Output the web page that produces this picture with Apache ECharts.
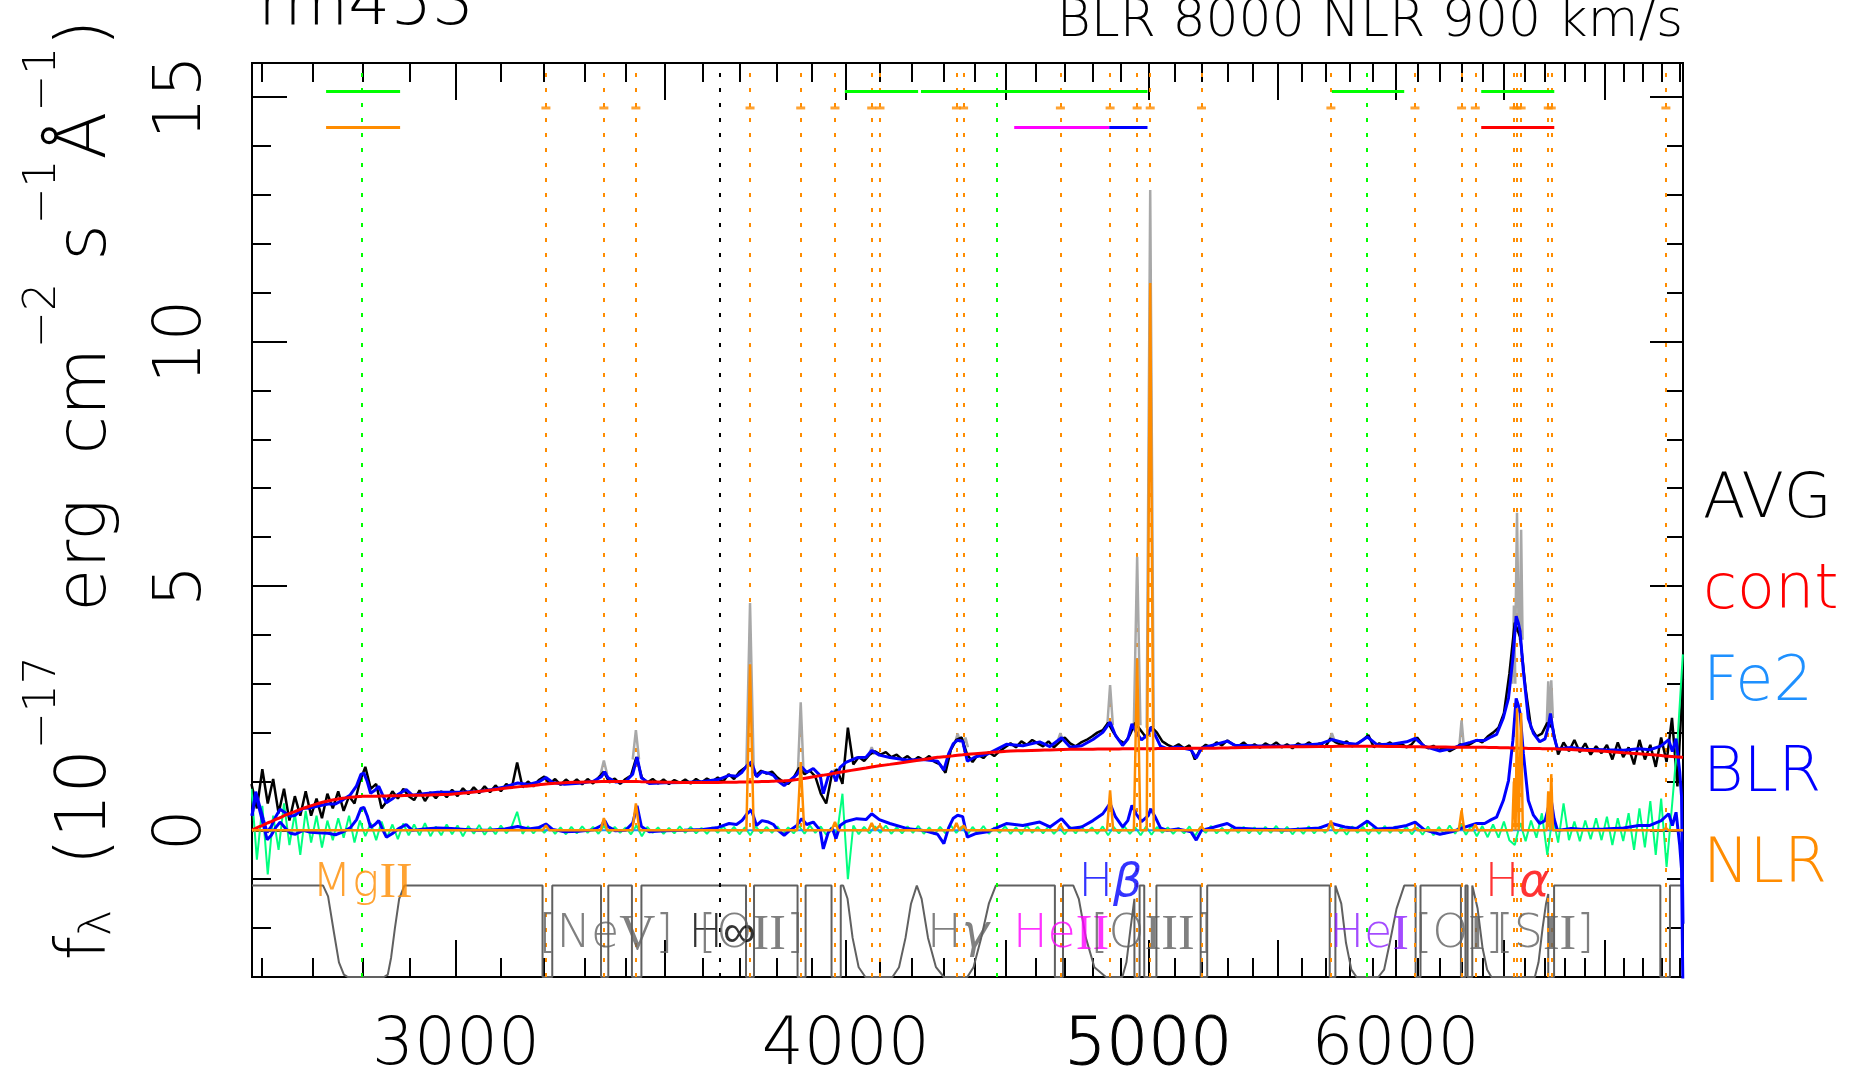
<!DOCTYPE html>
<html><head><meta charset="utf-8">
<script src="https://cdn.jsdelivr.net/npm/echarts@6/dist/echarts.min.js"></script>
<style>html,body{margin:0;padding:0;background:#fff}#c{width:1863px;height:1075px}</style>
</head><body><div id="c"></div><script>
// ---------------- data ----------------
const WAVE_MIN = 2581, WAVE_MAX = 7418, FLUX_MIN = -3, FLUX_MAX = 15.7;
const xLabelTicks = [3000, 4000, 5000, 6000];
const xMajorTicks = [3000, 3500, 4000, 4500, 5000, 5500, 6000, 6500, 7000];
const yLabelTicks = [0, 5, 10, 15];
const yMinorTicks = [-3,-2,-1,0,1,2,3,4,5,6,7,8,9,10,11,12,13,14,15];

// smooth model grid (Angstrom) with continuum and BLR component
const modelWave = [
2581,2588,2596,2603,2610,2618,2626,2635,2645,2655,
2665,2680,2695,2710,2730,2745,2760,2775,2788,2797,
2803,2810,2817,2826,2834,2842,2850,2862,2875,2892,
2905,2930,2960,2990,3020,3050,3080,3110,3140,3165,
3190,3206,3222,3250,3285,3320,3340,3348,3356,3375,
3400,3418,3429,3440,3460,3500,3550,3600,3640,3670,
3690,3705,3720,3731,3745,3760,3778,3792,3805,3822,
3838,3858,3872,3886,3905,3925,3934,3948,3960,3971,
3983,4000,4032,4060,4077,4100,4132,4183,4235,4280,
4300,4315,4330,4344,4360,4375,4400,4440,4503,4558,
4615,4650,4690,4720,4760,4800,4835,4861,4880,4906,
4925,4940,4955,4975,5000,5009,5025,5045,5070,5110,
5160,5180,5200,5250,5300,5330,5403,5536,5673,5725,
5780,5830,5877,5920,5990,6050,6088,6130,6200,6254,
6304,6340,6370,6408,6440,6465,6497,6522,6543,6559,
6570,6578,6594,6618,6643,6674,6700,6716,6727,6745,
6762,6830,6895,7000,7100,7180,7239,7300,7340,7360,
7380,7400,7410,7418];
const contFlux = [
0.00,0.04,0.08,0.11,0.15,0.18,0.22,0.26,0.31,0.35,
0.39,0.45,0.50,0.55,0.60,0.63,0.655,0.675,0.69,0.695,
0.70,0.70,0.70,0.70,0.70,0.705,0.705,0.71,0.71,0.715,
0.72,0.72,0.73,0.74,0.765,0.795,0.825,0.86,0.89,0.91,
0.935,0.95,0.96,0.975,0.985,0.995,1.0,1.0,1.0,1.0,
1.0,1.0,1.0,0.995,0.99,0.985,0.98,0.98,0.98,0.985,
0.985,0.99,0.99,0.99,0.995,1.0,1.0,1.005,1.01,1.015,
1.02,1.04,1.055,1.07,1.095,1.12,1.13,1.145,1.16,1.175,
1.19,1.21,1.245,1.275,1.295,1.32,1.35,1.40,1.45,1.495,
1.505,1.515,1.525,1.535,1.545,1.555,1.57,1.59,1.62,1.63,
1.64,1.645,1.655,1.66,1.66,1.66,1.665,1.665,1.665,1.668,
1.668,1.67,1.67,1.67,1.67,1.67,1.672,1.673,1.674,1.675,
1.678,1.679,1.68,1.682,1.686,1.69,1.70,1.71,1.715,1.718,
1.72,1.72,1.72,1.72,1.715,1.712,1.71,1.708,1.705,1.703,
1.702,1.70,1.70,1.70,1.695,1.693,1.69,1.688,1.685,1.683,
1.682,1.681,1.68,1.677,1.675,1.673,1.671,1.67,1.67,1.668,
1.665,1.655,1.64,1.617,1.59,1.57,1.55,1.53,1.515,1.51,
1.505,1.50,1.495,1.49];
const blrFlux = [
0.30,0.75,0.40,0.10,-0.19,-0.10,0.05,0.17,0.05,-0.06,
-0.08,0.00,-0.04,-0.05,-0.06,-0.09,-0.03,0.05,0.22,0.45,
0.47,0.30,0.06,0.12,0.20,0.02,-0.14,-0.07,0.03,0.12,
0.00,0.03,0.05,0.04,0.02,0.00,0.01,0.03,0.08,0.03,
0.06,0.13,0.02,-0.03,-0.02,0.01,0.10,0.20,0.08,-0.01,
0.00,0.15,0.50,0.08,-0.03,-0.01,0.00,0.02,0.06,0.14,
0.12,0.20,0.35,0.41,0.10,0.20,0.17,0.12,0.00,-0.10,
0.00,0.10,0.24,0.12,0.17,0.00,-0.38,-0.05,0.05,-0.17,
0.10,0.18,0.24,0.22,0.34,0.22,0.14,0.04,0.00,-0.08,
-0.27,0.05,0.25,0.31,0.28,-0.14,-0.07,-0.03,0.14,0.10,
0.17,0.07,0.24,0.04,0.07,0.20,0.34,0.55,0.28,0.07,
0.20,0.51,0.34,0.18,0.30,0.44,0.28,0.05,0.00,0.03,
-0.03,-0.20,0.00,0.07,0.14,0.05,0.03,0.01,0.05,0.14,
0.07,0.04,0.19,0.03,0.05,0.10,0.17,0.01,-0.08,-0.03,
0.05,0.10,0.14,0.14,0.22,0.27,0.61,1.02,1.84,2.70,
2.55,2.39,1.57,0.61,0.31,0.14,0.20,0.45,0.72,0.24,
0.00,0.04,0.02,0.03,0.05,0.10,0.10,0.20,0.34,0.10,
0.37,-0.30,-0.80,-3.40];
const fe2Wave = [2581, 7418];
const fe2Flux = [0, 0];

// observed spectrum (narrow lines removed) and residual, on a log-lambda pixel grid
const pixStart = 2580, pixLogStep = 0.004;
const avgFlux = [
0.95,0.45,1.25,0.55,1.05,0.35,0.85,0.2,0.7,0.3,
0.8,0.3,0.65,0.25,0.75,0.45,0.8,0.4,0.7,0.55,
1.0,1.3,0.85,0.95,0.45,0.6,0.8,0.65,0.85,0.7,
0.62,0.82,0.6,0.78,0.66,0.8,0.68,0.83,0.7,0.86,
0.74,0.88,0.76,0.9,0.78,0.92,0.8,0.95,0.86,1.39,
0.88,1.0,0.9,1.03,1.1,0.95,1.05,0.93,1.04,0.95,
1.04,0.94,1.05,0.96,1.08,1.2,0.98,1.06,0.95,1.05,
1.12,1.5,1.08,0.98,1.05,0.96,1.04,0.95,1.03,0.97,
1.04,0.96,1.05,0.98,1.06,1.0,1.08,1.0,1.15,1.05,
1.2,1.28,1.38,1.12,1.22,1.16,1.2,1.08,1.0,0.95,
1.08,1.28,1.15,1.22,1.1,0.75,0.55,1.12,1.25,0.95,
2.1,1.35,1.5,1.42,1.55,1.62,1.55,1.6,1.5,1.55,
1.45,1.52,1.42,1.5,1.44,1.52,1.4,1.35,1.18,1.65,
1.85,1.9,1.55,1.4,1.55,1.48,1.6,1.52,1.62,1.7,
1.78,1.7,1.82,1.75,1.85,1.78,1.72,1.82,1.7,1.8,
1.9,1.78,1.72,1.8,1.85,1.92,2.0,2.05,2.2,2.0,
1.85,1.78,1.95,2.2,2.05,1.9,2.12,2.0,1.82,1.75,
1.7,1.76,1.68,1.74,1.45,1.66,1.75,1.7,1.8,1.74,
1.84,1.76,1.72,1.8,1.7,1.76,1.69,1.78,1.72,1.8,
1.7,1.76,1.68,1.78,1.72,1.8,1.73,1.78,1.7,1.88,
1.8,1.75,1.82,1.72,1.78,1.85,1.95,1.7,1.78,1.74,
1.8,1.72,1.78,1.7,1.76,1.9,1.75,1.68,1.73,1.64,
1.7,1.62,1.68,1.76,1.72,1.78,1.85,1.8,1.92,2.0,
2.1,2.4,3.2,4.25,3.95,2.9,2.1,1.92,1.98,2.2,
2.1,1.55,1.8,1.62,1.85,1.6,1.78,1.55,1.72,1.58,
1.75,1.45,1.8,1.5,1.7,1.35,1.85,1.45,1.75,1.3,
1.9,1.4,2.3,0.9,3.1];
const residFlux = [
0.85,-0.6,0.5,-0.9,0.3,-0.4,0.55,-0.3,0.35,-0.5,
0.4,-0.25,0.3,-0.35,0.2,-0.2,0.25,-0.15,0.3,-0.25,
0.2,-0.12,0.15,-0.2,0.18,-0.15,0.12,-0.18,0.14,-0.1,
0.12,-0.1,0.15,-0.12,0.08,-0.1,0.12,-0.08,0.1,-0.12,
0.09,-0.07,0.11,-0.09,0.07,-0.08,0.1,-0.06,0.08,0.38,
-0.07,0.08,-0.06,0.07,-0.05,0.08,-0.07,0.06,-0.08,0.07,
-0.06,0.08,-0.05,0.07,-0.07,0.09,-0.06,0.07,-0.05,0.06,
-0.08,0.1,-0.12,0.07,-0.05,0.06,-0.07,0.05,-0.06,0.08,
-0.05,0.07,-0.06,0.05,-0.07,0.06,-0.05,0.08,-0.06,0.07,
-0.08,0.06,-0.1,0.08,-0.06,0.07,-0.05,0.08,-0.07,0.06,
-0.06,0.09,-0.07,0.1,-0.05,0.08,-0.09,0.06,-0.07,0.75,
-1.0,0.1,-0.08,0.07,-0.06,0.08,-0.05,0.1,-0.07,0.06,
-0.06,0.08,-0.05,0.09,-0.07,0.06,-0.08,0.07,-0.06,0.1,
-0.05,0.08,-0.1,0.07,-0.06,0.09,-0.07,0.06,-0.05,0.08,
-0.07,0.06,-0.08,0.1,-0.05,0.07,-0.06,0.08,-0.07,0.05,
-0.08,0.07,-0.06,0.09,-0.05,0.06,-0.07,0.08,-0.1,0.07,
-0.06,0.08,-0.07,0.06,-0.1,0.08,-0.09,0.07,-0.05,0.06,
-0.07,0.05,-0.06,0.08,-0.12,0.07,-0.05,0.09,-0.06,0.05,
-0.07,0.08,-0.05,0.07,-0.06,0.06,-0.08,0.07,-0.05,0.09,
-0.06,0.07,-0.08,0.05,-0.07,0.08,-0.06,0.07,-0.05,0.1,
-0.07,0.06,-0.09,0.08,-0.05,0.07,-0.08,0.06,-0.07,0.09,
-0.05,0.08,-0.06,0.07,-0.08,0.06,-0.09,0.08,-0.1,0.07,
-0.08,0.1,-0.07,0.12,-0.09,0.1,-0.12,0.09,-0.14,0.12,
-0.15,0.18,-0.2,-0.3,0.15,-0.22,0.2,-0.15,0.35,-0.5,
0.3,-0.25,0.55,-0.2,0.18,-0.22,0.2,-0.18,0.25,-0.2,
0.28,-0.3,0.25,-0.22,0.35,-0.4,0.45,-0.35,0.6,-0.5,
0.65,-0.75,0.5,1.8,3.6];

// narrow-line (NLR) component: centre, peak, half width (A)
const nlrCenter = [3206,3346,3426,3727,3869,3968,4077,4102,4340,4363,4686,4861,4959,5007,5200,5721,6087,6300,6364,6548,6563,6583,6716,6731,7325];
const nlrPeak   = [0.10,0.25,0.55,3.4,1.4,0.17,0.15,0.10,0.15,0.10,0.12,0.82,3.5,11.2,0.08,0.20,0.05,0.41,0.12,1.0,2.5,2.4,0.8,1.15,0.05];
const nlrHalf   = [8,8,9,10,10,10,10,10,10,10,11,11,12,13,12,13,13,13,13,8,8,8,8,8,14];
// observed data (with narrow lines) at the narrow lines: centre, peak, local level, half width
const dataCenter = [3346,3426,3727,3869,3968,4077,4344,4369,4686,4861,4959,5007,5725,6300,6548,6563,6583,6716,6731];
const dataPeak   = [1.43,2.05,4.65,2.62,1.25,1.70,1.98,1.90,1.99,2.97,5.6,13.1,1.99,2.25,4.6,6.5,6.15,3.05,3.07];
const dataLevel  = [1.15,1.45,1.3,1.2,1.1,1.55,1.8,1.7,1.85,2.15,2.15,2.1,1.85,1.75,3.0,4.3,3.9,2.1,2.3];
const dataHalf   = [8,8,10,8,8,8,8,8,8,10,12,13,10,10,7,7,7,8,8];

// fitting-window weight curve shown at the bottom
const maskWave = [2581,2720,2730,2742,2752,2762,2770,2845,2853,2860,2868,2877,2888,
3198,3198,3221,3221,3339,3339,3357,3357,3416,3416,3440,3440,3716,3716,3738,3738,3860,3860,3883,3883,3958,3958,3985,3985,
3992,4005,4020,4038,4058,4140,4160,4180,4197,4215,4230,4250,4275,4300,4375,4395,4420,4445,4468,
4667,4667,4695,4695,4731,4750,4775,4805,4846,4905,4920,4935,4949,4949,4968,4968,4985,4985,5030,5030,
5197,5197,5222,5222,5716,5716,5740,5740,5765,5785,5808,5830,5925,5950,5975,6005,6039,
6090,6090,6112,6112,6297,6297,6318,6318,6328,6328,6350,6350,6358,6375,6398,6420,6440,6650,6668,6688,6705,6716,6716,6745,6745,
7295,7295,7347,7347,7418];
const maskFlux = [-1.13,-1.13,-1.35,-2.1,-2.7,-2.95,-3,-3,-2.95,-2.6,-2.0,-1.4,-1.13,
-1.13,-3,-3,-1.13,-1.13,-3,-3,-1.13,-1.13,-3,-3,-1.13,-1.13,-3,-3,-1.13,-1.13,-3,-3,-1.13,-1.13,-3,-3,-1.13,
-1.13,-1.4,-2.2,-2.8,-3,-3,-2.8,-2.2,-1.5,-1.13,-1.4,-2.2,-2.8,-3,-3,-2.8,-2.2,-1.5,-1.13,
-1.13,-3,-3,-1.13,-1.13,-1.4,-2.2,-2.8,-3,-3,-2.7,-2.0,-1.4,-3,-3,-1.13,-1.13,-3,-3,-1.13,
-1.13,-3,-3,-1.13,-1.13,-3,-3,-1.13,-1.5,-2.3,-2.85,-3,-3,-2.85,-2.3,-1.6,-1.13,
-1.13,-3,-3,-1.13,-1.13,-3,-3,-1.13,-1.13,-3,-3,-1.13,-1.13,-1.6,-2.4,-2.85,-3,-3,-2.7,-2.0,-1.5,-1.3,-3,-3,-1.13,
-1.13,-3,-3,-1.13,-1.13];

// line positions
const narrowLineWave = [3206,3346,3426,3727,3869,3968,4077,4102,4340,4363,4686,4861,4959,5007,5200,5721,6087,6300,6364,6548,6563,6583,6716,6731,7325];
const broadLineWave = [2798,4340,4471,4686,4861,5876,6563];
const limitLineWave = [3646];
// fitting ranges at the top
const rangeStart = [2726,3997,4228,5725,6392,2726,4529,4858,6392];
const rangeEnd   = [2879,4219,4997,6039,6746,2879,4858,4997,6746];
const rangeLevel = [15.12,15.12,15.12,15.12,15.12,14.39,14.39,14.39,14.39];
const rangeColor = ['#00ff00','#00ff00','#00ff00','#00ff00','#00ff00','#ff8c00','#ff00ff','#0000ff','#ff0000'];
const dashLevel = 14.78;
// line names
const lineName  = ['MgII','Hβ','Hα','[NeV]','H∞','[OII]','Hγ','HeII','[OIII]','HeI','[OI]','[SII]'];
const lineWave  = [2800,4862,6564,3351,3651,3730,4345,4688,5012,5885,6287,6700];
const lineLevel = [-1.1,-1.1,-1.1,-2.15,-2.15,-2.15,-2.15,-2.15,-2.15,-2.15,-2.15,-2.15];
const lineColor = ['#ff8c00','#0000ff','#ff0000','#606060','#000000','#606060','#606060','#ff00ff','#606060','#8c1eff','#606060','#606060'];
const legendNames = ['AVG','cont','Fe2','BLR','NLR'];
const legendColors = ['#000000','#ff0000','#1e90ff','#0000ff','#ff8c00'];

// ---------------- build ----------------
const lw = Math.log;
const FONT = "'DejaVu Sans', sans-serif";
const FW = 200;
const xy = (w, f) => [lw(w), f];
const modelLower = modelWave.map((w, i) => xy(w, blrFlux[i]));
const modelUpper = modelWave.map((w, i) => xy(w, +(contFlux[i] + blrFlux[i]).toFixed(3)));
const contData = modelWave.map((w, i) => xy(w, contFlux[i]));
const avgData = avgFlux.map((f, i) => [lw(pixStart) + pixLogStep * i, f]);
const residData = residFlux.map((f, i) => [lw(pixStart) + pixLogStep * i, f]);
const nlrData = [xy(WAVE_MIN, 0)];
nlrCenter.forEach((c, i) => { nlrData.push(xy(c - nlrHalf[i], 0), xy(c, nlrPeak[i]), xy(c + nlrHalf[i], 0)); });
nlrData.push(xy(WAVE_MAX, 0));
const greyData = [];
dataCenter.forEach((c, i) => { greyData.push(xy(c - dataHalf[i], dataLevel[i]), xy(c, dataPeak[i]), xy(c + dataHalf[i], dataLevel[i]), [lw(c + dataHalf[i]), null]); });
const maskData = maskWave.map((w, i) => xy(w, maskFlux[i]));

const vlines = [];
limitLineWave.forEach(w => vlines.push({ coords: [xy(w, FLUX_MIN), xy(w, 15.55)], lineStyle: { color: '#000000' } }));
broadLineWave.forEach(w => vlines.push({ coords: [xy(w, FLUX_MIN), xy(w, 15.55)], lineStyle: { color: '#00ff00' } }));
narrowLineWave.forEach(w => vlines.push({ coords: [xy(w, FLUX_MIN), xy(w, 15.55)], lineStyle: { color: '#ff8c00' } }));
const rangeLines = rangeStart.map((s, i) => ({ coords: [xy(s, rangeLevel[i]), xy(rangeEnd[i], rangeLevel[i])], lineStyle: { color: rangeColor[i] } }));

function richName(s) {
  const m = s.match(/^(\[?)([A-Z][a-z]?)([IV]+)(\]?)$/);
  if (m) return m[1] + m[2] + '{r|' + m[3] + '}' + m[4];
  const g = s.match(/^H([αβγ])$/);
  if (g) return 'H{g|' + g[1] + '}';
  return s;
}
const labelData = lineName.map((n, i) => ({ value: xy(lineWave[i], lineLevel[i]), name: n, label: { color: lineColor[i] } }));

const xMinorTicks = []; for (let w = 2600; w <= 7400; w += 100) xMinorTicks.push(w);

function xAxis(pos, ticks, len, withLabels) {
  return {
    type: 'value', position: pos, min: lw(WAVE_MIN), max: lw(WAVE_MAX), gridIndex: 0,
    axisLine: { show: true, onZero: false, lineStyle: { color: '#000', width: 2 } },
    splitLine: { show: false },
    axisTick: { show: true, inside: true, length: len, lineStyle: { color: '#000', width: 2 }, customValues: ticks.map(lw) },
    axisLabel: withLabels ? {
      show: true, customValues: xLabelTicks.map(lw), margin: 37, fontSize: 66, color: '#000', fontFamily: FONT, fontWeight: FW,
      formatter: v => { const w = Math.round(Math.exp(v)); return w === 5000 ? '{b|' + w + '}' : String(w); },
      rich: { b: { fontSize: 66, fontFamily: FONT, fontWeight: FW, color: '#000', textBorderColor: '#000', textBorderWidth: 1 } }
    } : { show: false }
  };
}
function yAxis(pos, ticks, len, withLabels) {
  return {
    type: 'value', position: pos, min: FLUX_MIN, max: FLUX_MAX, gridIndex: 0,
    axisLine: { show: true, onZero: false, lineStyle: { color: '#000', width: 2 } },
    splitLine: { show: false },
    axisTick: { show: true, inside: true, length: len, lineStyle: { color: '#000', width: 2 }, customValues: ticks },
    axisLabel: withLabels ? { show: true, customValues: yLabelTicks, rotate: 90, margin: 36, fontSize: 66, color: '#000', fontFamily: FONT, fontWeight: FW } : { show: false }
  };
}

const option = {
  backgroundColor: '#ffffff',
  animation: false,
  textStyle: { fontFamily: FONT },
  grid: { left: 252, right: 180, top: 63, bottom: 98, containLabel: false, outerBoundsMode: 'none' },
  xAxis: [xAxis('bottom', xMajorTicks, 37, true), xAxis('bottom', xMinorTicks, 19, false), xAxis('top', xMajorTicks, 37, false), xAxis('top', xMinorTicks, 19, false)],
  yAxis: [yAxis('left', yLabelTicks, 35, true), yAxis('left', yMinorTicks, 19, false), yAxis('right', yLabelTicks, 33, false), yAxis('right', yMinorTicks, 16, false)],
  series: [
    { name: 'window', type: 'line', data: maskData, symbol: 'none', z: 1, lineStyle: { color: '#606060', width: 2 } },
    { name: 'lines', type: 'lines', coordinateSystem: 'cartesian2d', data: vlines, z: 2, silent: true, lineStyle: { width: 2, type: [4, 11], opacity: 1 } },
    { name: 'ranges', type: 'lines', coordinateSystem: 'cartesian2d', data: rangeLines, z: 3, silent: true, lineStyle: { width: 3, type: 'solid', opacity: 1 } },
    { name: 'dashes', type: 'scatter', data: narrowLineWave.map(w => xy(w, dashLevel)), symbol: 'rect', symbolSize: [9, 3], z: 3, itemStyle: { color: '#ff8c00' } },
    { name: 'data', type: 'line', data: greyData, symbol: 'none', connectNulls: false, z: 4, lineStyle: { color: '#a8a8a8', width: 2.5 } },
    { name: 'AVG', type: 'line', data: avgData, symbol: 'none', z: 5, lineStyle: { color: '#000000', width: 2.5 } },
    { name: 'resid', type: 'line', data: residData, symbol: 'none', z: 5, lineStyle: { color: '#00ff7f', width: 2 } },
    { name: 'Fe2', type: 'line', data: fe2Wave.map((w, i) => xy(w, fe2Flux[i])), symbol: 'none', z: 6, lineStyle: { color: '#1e90ff', width: 2 } },
    { name: 'BLR', type: 'line', data: modelLower, symbol: 'none', z: 7, lineStyle: { color: '#0000ff', width: 3 } },
    { name: 'model', type: 'line', data: modelUpper, symbol: 'none', z: 7, lineStyle: { color: '#0000ff', width: 3 } },
    { name: 'cont', type: 'line', data: contData, symbol: 'none', smooth: 0.3, z: 8, lineStyle: { color: '#ff0000', width: 3 } },
    { name: 'NLR', type: 'line', data: nlrData, symbol: 'none', z: 9, lineStyle: { color: '#ff8c00', width: 2.5 } },
    { name: 'names', type: 'scatter', data: labelData, symbolSize: 1, z: 10, itemStyle: { color: 'rgba(0,0,0,0)' },
      label: { show: true, position: 'inside', fontSize: 46, fontFamily: FONT, fontWeight: FW,
        formatter: p => richName(p.name),
        rich: { r: { fontFamily: "'Liberation Serif', serif", fontSize: 50 }, g: { fontStyle: 'italic', fontSize: 46, fontFamily: FONT } } } }
  ],
  graphic: [
    { type: 'text', x: 258, y: 7, style: { text: 'rm453', fill: '#000', font: FW + ' 66px ' + FONT, align: 'left', verticalAlign: 'middle' } },
    { type: 'text', x: 1683, y: 22, style: { text: 'BLR 8000 NLR 900 km/s', fill: '#000', font: FW + ' 52px ' + FONT, align: 'right', verticalAlign: 'middle' } },
    { type: 'text', x: 22, y: 490, rotation: Math.PI / 2,
      style: { text: '{n|f}{sub|λ}{n|  (10}{sup|−17}{n|  erg  cm}{sup|−2}{n| s}{sup|−1}{n|Å}{sup|−1}{n|)}', align: 'center', verticalAlign: 'top', fill: '#000',
        rich: { n: { fontSize: 70, lineHeight: 100, verticalAlign: 'bottom', fontFamily: FONT, fontWeight: FW, fill: '#000' },
                sup: { fontSize: 44, lineHeight: 44, verticalAlign: 'top', fontFamily: FONT, fontWeight: FW, fill: '#000' },
                sub: { fontSize: 44, lineHeight: 53, verticalAlign: 'bottom', fontFamily: FONT, fontWeight: FW, fill: '#000' } } } }
  ].concat(legendNames.map((n, i) => ({ type: 'text', x: 1703, y: 501 + i * 91.3,
      style: { text: n, fill: legendColors[i], font: FW + ' 62px ' + FONT, align: 'left', verticalAlign: 'middle' } })))
};
const chart = echarts.init(document.getElementById('c'), null, { renderer: 'canvas', width: 1863, height: 1075 });
chart.setOption(option);
</script></body></html>
